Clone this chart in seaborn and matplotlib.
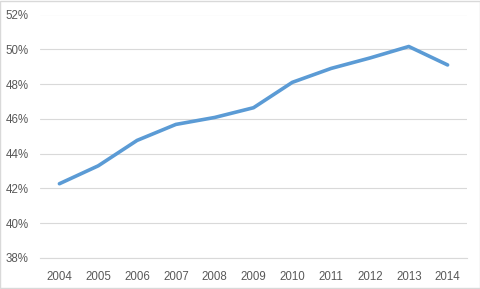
import matplotlib
matplotlib.use("Agg")
import matplotlib.pyplot as plt
import seaborn as sns
import pandas as pd
from matplotlib.ticker import FuncFormatter

years = ["2004", "2005", "2006", "2007", "2008", "2009", "2010", "2011", "2012", "2013", "2014"]
values = [42.27, 43.3, 44.76, 45.68, 46.08, 46.64, 48.1, 48.9, 49.5, 50.16, 49.1]
yticks = [38, 40, 42, 44, 46, 48, 50, 52]

df = pd.DataFrame({"year": years, "value": values})

sns.set_theme(style="white")
plt.rcParams['font.family'] = ['Liberation Sans', 'DejaVu Sans']

fig = plt.figure(figsize=(4.81, 2.89), dpi=100)
ax = fig.add_axes([40/481, 1-258/289, (467-40)/481, (258-14.5)/289])

sns.lineplot(data=df, x="year", y="value", ax=ax, color="#5B9BD5", linewidth=2.6, sort=False)

ax.set_xlim(-0.5, len(years) - 0.5)
ax.set_ylim(38, 52)
ax.set_yticks(yticks)
ax.yaxis.set_major_formatter(FuncFormatter(lambda v, p: f"{v:.0f}%"))
ax.grid(axis="y", color="#D9D9D9", linewidth=0.8)
ax.set_axisbelow(True)
for s in ["top", "right", "left"]:
    ax.spines[s].set_visible(False)
ax.spines["bottom"].set_color("#D9D9D9")
ax.spines["bottom"].set_linewidth(0.8)
ax.tick_params(axis="y", length=0, labelsize=8.3, colors="#595959", pad=8)
ax.tick_params(axis="x", length=0, labelsize=8.3, colors="#595959", pad=9)
ax.set_xlabel("")
ax.set_ylabel("")

fig.patches.append(plt.Rectangle((0.001, 0.002), 0.997, 0.995, transform=fig.transFigure,
                                 fill=False, edgecolor="#D9D9D9", linewidth=1))

fig.savefig("out.png", dpi=100, facecolor="white")
